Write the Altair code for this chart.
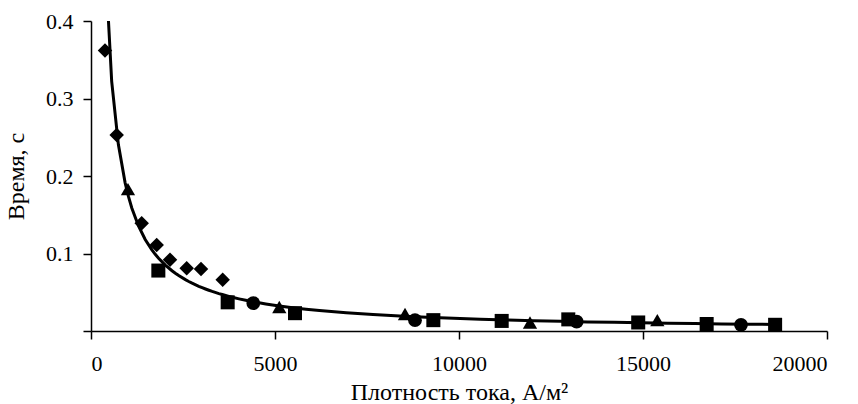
import altair as alt
import pandas as pd

# Data
diamond_x = [380, 698, 1377, 1785, 2147, 2600, 2989, 3578]
diamond_y = [0.362, 0.253, 0.139, 0.111, 0.092, 0.081, 0.080, 0.066]

triangle_x = [1005, 5117, 8533, 11929, 15389]
triangle_y = [0.183, 0.031, 0.022, 0.011, 0.014]

square_x = [1830, 3714, 5543, 9303, 11160, 12970, 14870, 16730, 18590]
square_y = [0.078, 0.037, 0.023, 0.014, 0.013, 0.015, 0.011, 0.009, 0.008]

circle_x = [4410, 8804, 13197, 17663]
circle_y = [0.036, 0.014, 0.012, 0.008]

series_names = ["s1", "s2", "s3", "s4"]
shapes = ["diamond", "triangle-up", "square", "circle"]
marker_sizes = [210, 190, 200, 160]

x_ticks = [0, 5000, 10000, 15000, 20000]
y_ticks = [0, 0.1, 0.2, 0.3, 0.4]

rows = []
for name, xs, ys in zip(series_names,
                        [diamond_x, triangle_x, square_x, circle_x],
                        [diamond_y, triangle_y, square_y, circle_y]):
    for a, b in zip(xs, ys):
        rows.append({"series": name, "x": a, "y": b})
df = pd.DataFrame(rows)

FONT = "Liberation Serif"

x_enc = alt.X("x:Q", scale=alt.Scale(domain=[0, 20000], nice=False),
              axis=alt.Axis(values=x_ticks, format="d",
                            title="Плотность тока, А/м²",
                            titleY=68, titleBaseline="alphabetic"))
y_enc = alt.Y("y:Q", scale=alt.Scale(domain=[0, 0.4], nice=False),
              axis=alt.Axis(values=y_ticks,
                            labelExpr="datum.value == 0 ? '' : format(datum.value, '.1f')",
                            title="Время, с", titleX=-75, titleY=155,
                            titleBaseline="middle"))

points = alt.Chart(df).mark_point(filled=True, opacity=1, color="black").encode(
    x=x_enc, y=y_enc,
    shape=alt.Shape("series:N", scale=alt.Scale(domain=series_names, range=shapes), legend=None),
    size=alt.Size("series:N", scale=alt.Scale(domain=series_names, range=marker_sizes), legend=None),
)

curve = alt.Chart(df).transform_regression(
    "x", "y", method="pow", extent=[380, 18590]
).mark_line(color="black", strokeWidth=3, clip=True).encode(x="x:Q", y="y:Q")

chart = alt.layer(curve, points).properties(
    width=736, height=310,
    autosize=alt.AutoSizeParams(type="none"),
    padding={"left": 91, "top": 21, "right": 31, "bottom": 73},
).configure_view(stroke=None).configure_axis(
    grid=False, domainColor="black", domainWidth=1.5, tickColor="black", tickWidth=1.5,
    tickSize=8, labelFont=FONT, labelFontSize=22, labelColor="black",
    titleFont=FONT, titleFontSize=24, titleFontWeight="normal", titleColor="black",
    labelPadding=10,
).configure_axisX(labelPadding=14)

chart.save("out.html", embed_options={"renderer": "svg", "actions": False})
